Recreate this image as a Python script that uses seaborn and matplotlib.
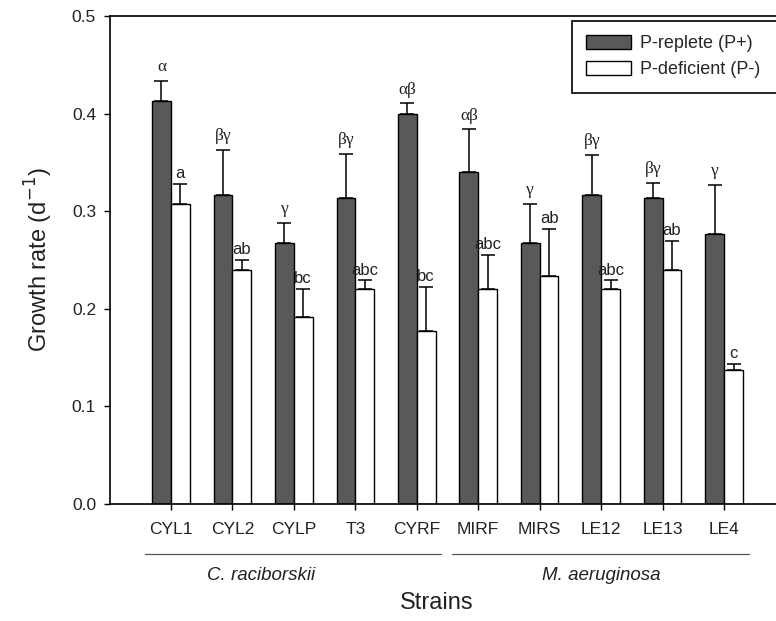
import numpy as np
import pandas as pd
import matplotlib
matplotlib.use("Agg")
import matplotlib.pyplot as plt
import matplotlib.transforms as mtransforms
import seaborn as sns

strains = ["CYL1", "CYL2", "CYLP", "T3", "CYRF", "MIRF", "MIRS", "LE12", "LE13", "LE4"]
p_replete = [0.413, 0.317, 0.267, 0.314, 0.400, 0.340, 0.267, 0.317, 0.314, 0.277]
p_replete_err = [0.021, 0.046, 0.021, 0.045, 0.011, 0.044, 0.041, 0.041, 0.015, 0.050]
p_deficient = [0.307, 0.240, 0.191, 0.220, 0.177, 0.220, 0.234, 0.220, 0.240, 0.137]
p_deficient_err = [0.021, 0.010, 0.029, 0.009, 0.045, 0.035, 0.048, 0.009, 0.030, 0.006]
letters_replete = ["α", "βγ", "γ", "βγ", "αβ", "αβ", "γ", "βγ", "βγ", "γ"]
letters_deficient = ["a", "ab", "bc", "abc", "bc", "abc", "ab", "abc", "ab", "c"]
conditions = ["P-replete (P+)", "P-deficient (P-)"]
species = ["C. raciborskii", "M. aeruginosa"]
species_groups = [(0, 4), (5, 9)]
species_label_x = [1.46, 7.0]
yticks = [0.0, 0.1, 0.2, 0.3, 0.4, 0.5]

sns.set_theme(style="ticks")
plt.rcParams["font.family"] = ["Liberation Sans", "DejaVu Sans"]

df = pd.DataFrame({
    "Strain": strains * 2,
    "Condition": [conditions[0]] * len(strains) + [conditions[1]] * len(strains),
    "Rate": p_replete + p_deficient,
})

fig = plt.figure(figsize=(7.76, 6.21), dpi=100)
ax_h = 487.0
ax = fig.add_axes([110 / 776, (621 - 503.5) / 621, 675 / 776, ax_h / 621])

sns.barplot(data=df, x="Strain", y="Rate", hue="Condition", order=strains,
            hue_order=conditions, palette={conditions[0]: "#595959", conditions[1]: "white"},
            edgecolor="black", linewidth=1.0, width=0.61, errorbar=None, saturation=1,
            ax=ax)

errs = [p_replete_err, p_deficient_err]
labs = [letters_replete, letters_deficient]
bar_containers = list(ax.containers)
for ci, cont in enumerate(bar_containers):
    xs = [b.get_x() + b.get_width() / 2 for b in cont.patches]
    hs = [b.get_height() for b in cont.patches]
    e = errs[ci]
    ax.errorbar(xs, hs, yerr=[np.zeros(len(e)), e], fmt="none", ecolor="black",
                elinewidth=1.1, capsize=5, capthick=1.1, zorder=3)
    for x, h, ee, t in zip(xs, hs, e, labs[ci]):
        if ci == 0:
            ax.annotate(t, (x, h + ee), xytext=(0, 4), textcoords="offset points",
                        ha="center", va="bottom", fontsize=12.5,
                        family=["Liberation Serif", "DejaVu Serif"], color="#222222")
        else:
            ax.annotate(t, (x, h + ee), xytext=(0, 2), textcoords="offset points",
                        ha="center", va="bottom", fontsize=12, color="#222222")

ax.set_xlim(-0.99, 9.99)
ax.set_ylim(0, 0.5)
ax.set_yticks(yticks)
ax.set_yticklabels([f"{v:.1f}" for v in yticks])
ax.tick_params(axis="both", labelsize=12.5, direction="out", length=4, width=1,
               colors="black", labelcolor="#222222")
ax.tick_params(axis="x", pad=9)
ax.tick_params(axis="y", pad=6)
for s in ["left", "bottom", "top"]:
    ax.spines[s].set_visible(True)
    ax.spines[s].set_linewidth(1.2)
    ax.spines[s].set_color("black")
ax.spines["right"].set_visible(False)

ax.set_xlabel("")
ax.set_ylabel("Growth rate (d$^{-1}$)", fontsize=17, color="#222222", labelpad=12)

trans = mtransforms.blended_transform_factory(ax.transData, ax.transAxes)
line_y = -(554 - 503.5) / ax_h
text_y = -(575 - 503.5) / ax_h
for (a, b), name, lx in zip(species_groups, species, species_label_x):
    ax.plot([a - 0.42, b + 0.4], [line_y, line_y], transform=trans, color="#555555",
            lw=0.9, clip_on=False)
    ax.text(lx, text_y, name, transform=trans, ha="center", va="center",
            fontsize=13.5, style="italic", color="#222222")
fig.text(437 / 776, 1 - 603 / 621, "Strains", ha="center", va="center", fontsize=17,
         color="#222222")

leg = ax.legend(loc="upper left", bbox_to_anchor=(0.684, 0.5, 0.33, 0.491), mode="expand",
                fontsize=13, frameon=True, fancybox=False, handlelength=2.5,
                handleheight=0.78, borderpad=0.8, labelspacing=0.5, handletextpad=0.48,
                borderaxespad=0)
leg.get_frame().set_edgecolor("black")
leg.get_frame().set_linewidth(1.2)
leg.get_frame().set_alpha(1)

fig.savefig("out.png", dpi=100)
